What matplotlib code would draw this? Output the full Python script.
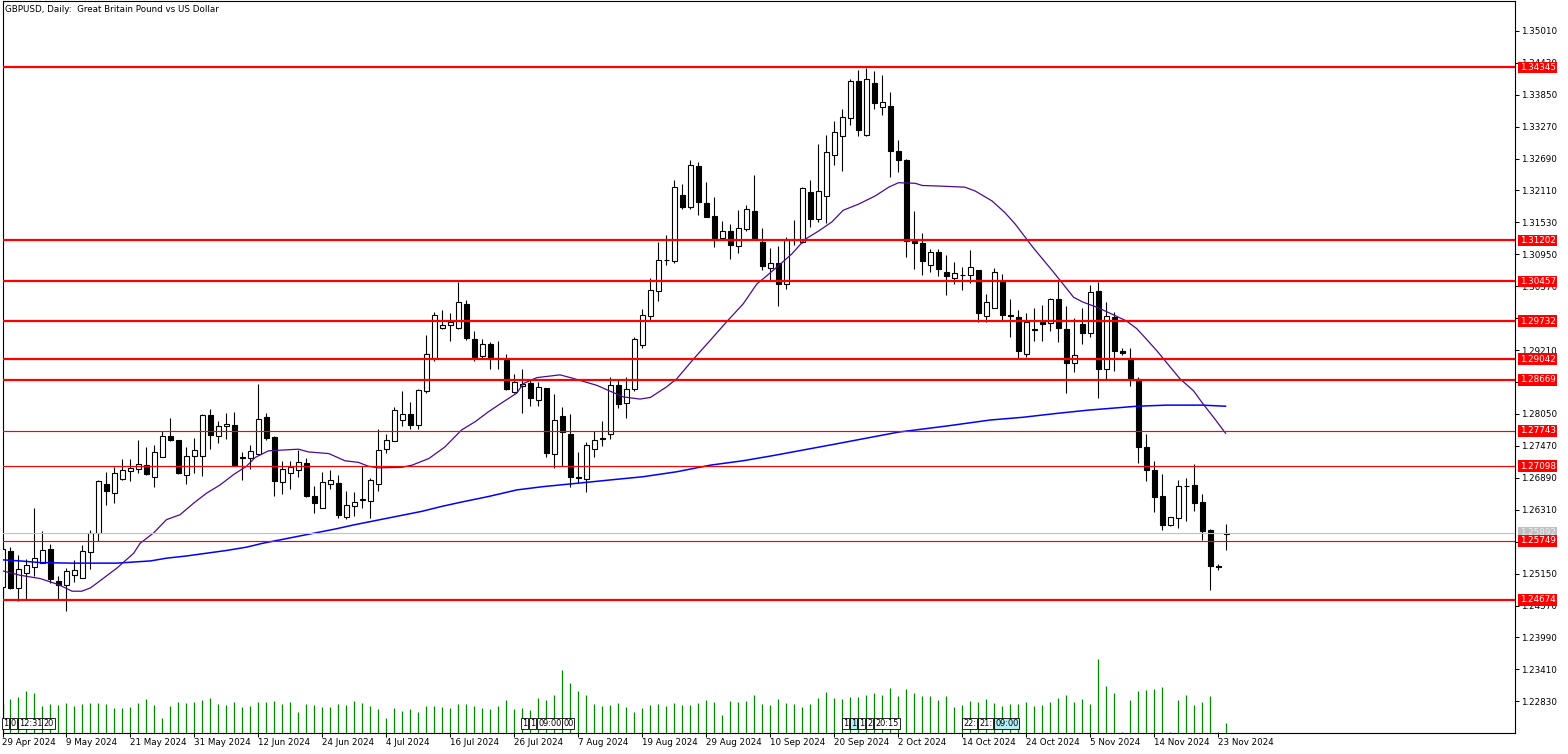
import matplotlib
matplotlib.use("Agg")
import matplotlib.pyplot as plt
from matplotlib.patches import Rectangle

# ---------------- data ----------------
title = "GBPUSD, Daily:  Great Britain Pound vs US Dollar"

opens = [1.2490, 1.25553, 1.24887, 1.25166, 1.25275, 1.25347, 1.25601, 1.2502, 1.24948, 1.2513,
         1.25075, 1.25547, 1.25892, 1.26781, 1.26618, 1.26866, 1.27017, 1.27053, 1.27126, 1.26908,
         1.27271, 1.27652, 1.2758, 1.26945, 1.27289, 1.27289, 1.28033, 1.27652, 1.27834, 1.27858,
         1.27265, 1.27247, 1.27326, 1.27991, 1.27635, 1.26821, 1.26972, 1.27026, 1.27159, 1.26562,
         1.26339, 1.26773, 1.26791, 1.26176, 1.26375, 1.26495, 1.26465, 1.26773, 1.27406, 1.27563,
         1.27936, 1.28057, 1.27858, 1.28473, 1.29058, 1.29613, 1.29667, 1.29613, 1.30053, 1.29414,
         1.291, 1.29329, 1.29058, 1.29034, 1.2844, 1.28558, 1.28619, 1.28305, 1.28516, 1.27315,
         1.28009, 1.27683, 1.26899, 1.26874, 1.27406, 1.27599, 1.27677, 1.2857, 1.28256, 1.28504,
         1.29307, 1.29826, 1.30278, 1.30851, 1.30827, 1.32022, 1.31817, 1.32553, 1.31883, 1.31648,
         1.31244, 1.31377, 1.31099, 1.31407, 1.31739, 1.31177, 1.30695, 1.30788, 1.30408, 1.31205,
         1.31181, 1.32074, 1.31585, 1.32002, 1.3275, 1.33107, 1.3342, 1.34103, 1.33113, 1.34067,
         1.33632, 1.3365, 1.32835, 1.32654, 1.31199, 1.31157, 1.30752, 1.30988, 1.30625, 1.30517,
         1.30577, 1.30571, 1.30662, 1.29834, 1.29973, 1.30445, 1.29844, 1.2982, 1.2914, 1.29595,
         1.29716, 1.29698, 1.30129, 1.29601, 1.28976, 1.29692, 1.29516, 1.30275, 1.28861, 1.2981,
         1.29201, 1.29067, 1.28661, 1.27453, 1.27028, 1.26555, 1.26039, 1.26155, 1.26749, 1.26755,
         1.26452, 1.25948, 1.25281, 1.2587]
highs = [1.2568, 1.25626, 1.2548, 1.2542, 1.2634, 1.25916, 1.2568, 1.25105, 1.2525, 1.2539,
         1.25674, 1.2594, 1.26848, 1.26987, 1.2709, 1.27235, 1.27235, 1.2758, 1.27441, 1.27495,
         1.27749, 1.27985, 1.2758, 1.27453, 1.27622, 1.28058, 1.28148, 1.27913, 1.2807, 1.28094,
         1.2735, 1.27489, 1.2859, 1.28069, 1.27647, 1.27201, 1.27189, 1.27394, 1.27243, 1.26743,
         1.26996, 1.27026, 1.26936, 1.26646, 1.26634, 1.27098, 1.26893, 1.27768, 1.27683, 1.28184,
         1.28461, 1.28262, 1.28497, 1.29492, 1.29902, 1.29938, 1.2989, 1.30439, 1.30119, 1.29565,
         1.29414, 1.29348, 1.29384, 1.2913, 1.28781, 1.28872, 1.28661, 1.28637, 1.28516, 1.28407,
         1.28178, 1.28045, 1.27351, 1.27538, 1.27737, 1.2793, 1.28727, 1.28673, 1.28715, 1.29451,
         1.29964, 1.30526, 1.31177, 1.31292, 1.323, 1.32228, 1.32662, 1.32626, 1.32258, 1.31992,
         1.31552, 1.31503, 1.31751, 1.31847, 1.32396, 1.31425, 1.31063, 1.31102, 1.31259, 1.31573,
         1.32177, 1.32298, 1.32962, 1.33125, 1.33379, 1.3359, 1.3414, 1.3429, 1.34327, 1.34272,
         1.34212, 1.33892, 1.33034, 1.3269, 1.31742, 1.31338, 1.31054, 1.31054, 1.3094, 1.30813,
         1.30728, 1.3103, 1.30662, 1.30221, 1.3071, 1.30584, 1.30147, 1.29947, 1.2988, 1.29983,
         1.30026, 1.30165, 1.30457, 1.30002, 1.29801, 1.29983, 1.30384, 1.30439, 1.30087, 1.29905,
         1.2925, 1.2925, 1.28715, 1.2769, 1.27198, 1.26962, 1.26173, 1.26852, 1.26883, 1.27144,
         1.26597, 1.25966, 1.25323, 1.26051]
lows = [1.2472, 1.24875, 1.24645, 1.2467, 1.25105, 1.25335, 1.24984, 1.24682, 1.24476, 1.24996,
        1.2507, 1.25238, 1.25734, 1.264, 1.26424, 1.26848, 1.26836, 1.26981, 1.2695, 1.26727,
        1.2726, 1.2755, 1.26957, 1.26781, 1.26981, 1.26926, 1.2741, 1.27525, 1.27586, 1.2711,
        1.26848, 1.27053, 1.27307, 1.27575, 1.26562, 1.26592, 1.26694, 1.26911, 1.2655, 1.26248,
        1.26339, 1.26688, 1.26152, 1.26134, 1.26188, 1.26333, 1.26152, 1.26658, 1.2734, 1.2755,
        1.2784, 1.2778, 1.2778, 1.28431, 1.29004, 1.296, 1.29372, 1.296, 1.2939, 1.2901,
        1.2907, 1.28865, 1.28865, 1.28479, 1.28431, 1.28069, 1.28196, 1.28196, 1.27273, 1.27074,
        1.2711, 1.2673, 1.2679, 1.26639, 1.27261, 1.27472, 1.27587, 1.2816, 1.27979, 1.28468,
        1.29252, 1.29747, 1.30097, 1.30749, 1.30791, 1.31781, 1.31781, 1.31672, 1.31624, 1.31075,
        1.3122, 1.30864, 1.30966, 1.31365, 1.31238, 1.3067, 1.30471, 1.30003, 1.30318, 1.31127,
        1.31163, 1.31453, 1.31543, 1.31525, 1.32576, 1.32467, 1.33306, 1.33095, 1.33095, 1.3359,
        1.33475, 1.32358, 1.32449, 1.3091, 1.30692, 1.30583, 1.30625, 1.30553, 1.30203, 1.30414,
        1.30305, 1.3042, 1.29714, 1.29714, 1.2997, 1.29747, 1.29443, 1.29055, 1.2908, 1.29383,
        1.29383, 1.29565, 1.29358, 1.28424, 1.28818, 1.29328, 1.29449, 1.28333, 1.28679, 1.28824,
        1.29116, 1.28551, 1.27168, 1.2684, 1.26276, 1.25948, 1.26021, 1.25985, 1.26112, 1.26294,
        1.25754, 1.24844, 1.2522, 1.25584]
closes = [1.2560, 1.24887, 1.25238, 1.25311, 1.25432, 1.25583, 1.25057, 1.24948, 1.25202, 1.2522,
          1.25565, 1.25892, 1.26823, 1.26654, 1.26981, 1.27035, 1.27065, 1.27144, 1.26963, 1.2735,
          1.27658, 1.27574, 1.26981, 1.27289, 1.27398, 1.28033, 1.2767, 1.27834, 1.2787, 1.2712,
          1.27253, 1.2738, 1.27961, 1.27617, 1.26839, 1.27044, 1.2708, 1.27171, 1.26562, 1.26429,
          1.26809, 1.26845, 1.2621, 1.26393, 1.26453, 1.26507, 1.26851, 1.27388, 1.27569, 1.28129,
          1.28057, 1.27858, 1.28479, 1.29142, 1.29848, 1.29667, 1.29727, 1.30083, 1.29426, 1.29082,
          1.29317, 1.29052, 1.29046, 1.28503, 1.28639, 1.286, 1.2834, 1.28546, 1.27345, 1.27949,
          1.27725, 1.26911, 1.26887, 1.27484, 1.27568, 1.27611, 1.28582, 1.28238, 1.28498, 1.29415,
          1.2985, 1.30302, 1.30845, 1.30839, 1.32167, 1.31817, 1.32565, 1.31896, 1.31636, 1.31238,
          1.31377, 1.31117, 1.31425, 1.31769, 1.31238, 1.3073, 1.30791, 1.30408, 1.31217, 1.31217,
          1.32147, 1.31585, 1.32105, 1.32811, 1.33179, 1.33451, 1.34103, 1.33216, 1.3414, 1.33699,
          1.33723, 1.32835, 1.32654, 1.31199, 1.31151, 1.30825, 1.31, 1.30674, 1.30547, 1.30607,
          1.30565, 1.30716, 1.29877, 1.30076, 1.3063, 1.2985, 1.29832, 1.29189, 1.29729, 1.29583,
          1.2968, 1.30147, 1.29607, 1.2897, 1.29122, 1.29516, 1.30269, 1.28861, 1.29832, 1.29189,
          1.29158, 1.28679, 1.27441, 1.27028, 1.26549, 1.26039, 1.26173, 1.26737, 1.26737, 1.2644,
          1.2593, 1.25281, 1.25269, 1.25892]
tick_volume = [30000, 33700, 35700, 41700, 39700, 26700, 28700, 27700, 29700, 26700,
               28700, 29700, 29700, 28700, 24700, 24700, 25700, 29700, 33700, 27700,
               14700, 26700, 30700, 29700, 30700, 32700, 34700, 28700, 27700, 30700,
               25700, 26700, 30700, 30700, 31700, 28700, 30700, 20700, 28700, 27700,
               25700, 25700, 28700, 27700, 31700, 29700, 26700, 23700, 14700, 24700,
               21700, 23700, 20700, 26700, 26700, 25700, 24700, 28700, 28700, 26700,
               24700, 23700, 26700, 32700, 23700, 24700, 22700, 34700, 32700, 37700,
               62700, 49700, 41700, 37700, 28700, 26700, 27700, 29700, 25700, 20700,
               24700, 27700, 28700, 26700, 29700, 27700, 27700, 29700, 32700, 30700,
               17700, 31700, 30700, 31700, 37700, 28700, 27700, 33700, 29700, 28700,
               25700, 28700, 34700, 40700, 34700, 33700, 35700, 35700, 37700, 39700,
               37700, 44700, 36700, 43700, 39700, 36700, 36700, 32700, 36700, 25700,
               27700, 31700, 30700, 33700, 29700, 26700, 28700, 28700, 30700, 26700,
               27700, 30700, 34700, 37700, 30700, 33700, 28700, 73700, 46700, 39700,
               500, 32700, 41700, 42700, 43700, 45700, 700, 32700, 37700, 27700,
               30700, 36700, 700, 9700]

date_labels = ["29 Apr 2024", "9 May 2024", "21 May 2024", "31 May 2024", "12 Jun 2024",
               "24 Jun 2024", "4 Jul 2024", "16 Jul 2024", "26 Jul 2024", "7 Aug 2024",
               "19 Aug 2024", "29 Aug 2024", "10 Sep 2024", "20 Sep 2024", "2 Oct 2024",
               "14 Oct 2024", "24 Oct 2024", "5 Nov 2024", "14 Nov 2024", "23 Nov 2024"]

price_ticks = [1.35010, 1.34430, 1.33850, 1.33270, 1.32690, 1.32110, 1.31530, 1.30950,
               1.30370, 1.29790, 1.29210, 1.28630, 1.28050, 1.27470, 1.26890, 1.26310,
               1.25730, 1.25150, 1.24570, 1.23990, 1.23410, 1.22830]

levels_thick = [1.34345, 1.31202, 1.30457, 1.29732, 1.29042, 1.28669, 1.24674]
levels_thin = [1.27743, 1.27098, 1.25749]
bid_price = 1.25892

# moving averages (vertices: bar index, price)
ma_fast_x = [0, 2.2, 4.7, 7, 8.7, 9.9, 11, 12.2, 14.3, 16.4, 17.2, 18.9, 20.5, 22.2, 23.9, 25.5,
             27.2, 28.9, 30.5, 31.6, 33.25, 37, 38.25, 40.8, 42.8, 44.5, 45.75, 47, 49.9, 51.2,
             53.3, 55.3, 57.4, 59.1, 60.75, 62.4, 64.3, 65.1, 66.8, 69.7, 71, 74.3, 77.6, 79.7,
             81, 83, 84.3, 86.4, 88.5, 90.5, 92.6, 94.3, 95.3, 97, 98.7, 100.3, 102, 103.7, 105.1,
             107, 109.1, 110.8, 112, 114.1, 115, 117, 120.3, 121.6, 123.7, 125.3, 126.6, 128.8,
             131.2, 132.2, 133.9, 135.1, 136.8, 138.9, 140.5, 141.8, 143, 144.3, 146, 147.2,
             148.9, 150.1, 151.4, 152.9]
ma_fast_y = [1.2520, 1.2512, 1.2506, 1.2495, 1.2483, 1.2483, 1.2489, 1.2502, 1.2525, 1.2552,
             1.2570, 1.2589, 1.2613, 1.2622, 1.2643, 1.2661, 1.2676, 1.2695, 1.2710, 1.2726,
             1.2738, 1.2741, 1.2736, 1.2733, 1.2720, 1.2717, 1.2710, 1.2707, 1.2708, 1.2712,
             1.2724, 1.2745, 1.2776, 1.2791, 1.2809, 1.2825, 1.2843, 1.2860, 1.2871, 1.2876,
             1.2871, 1.2857, 1.2836, 1.2832, 1.2835, 1.2854, 1.2869, 1.2905, 1.2939, 1.2972,
             1.3005, 1.3041, 1.3053, 1.3074, 1.3096, 1.3122, 1.3137, 1.3154, 1.3175, 1.3186,
             1.3201, 1.3217, 1.3225, 1.3224, 1.3220, 1.3219, 1.3217, 1.3210, 1.3192, 1.3171,
             1.3150, 1.3108, 1.3066, 1.3048, 1.3017, 1.3008, 1.2999, 1.2985, 1.2974, 1.2960,
             1.2941, 1.2920, 1.2890, 1.2869, 1.2847, 1.2823, 1.2799, 1.2770]
ma_slow_x = [0, 2.2, 4.7, 8.5, 14.3, 16.4, 18.5, 20.5, 23, 25.5, 28, 30.5, 32.5, 41.6, 44.1,
             48.25, 52.4, 54.9, 57.4, 60.75, 64.3, 67.6, 71.8, 75.9, 80.1, 84.3, 88.5, 92.6,
             96.2, 104, 112, 118, 123.5, 127.6, 131.8, 135.8, 141.8, 145.5, 150, 152.9]
ma_slow_y = [1.2540, 1.2538, 1.2535, 1.2534, 1.2534, 1.2536, 1.2538, 1.2543, 1.2547, 1.2552,
             1.2557, 1.2563, 1.2570, 1.2596, 1.2604, 1.2616, 1.2628, 1.2637, 1.2645, 1.2655,
             1.2667, 1.2673, 1.2679, 1.2685, 1.2691, 1.2700, 1.2712, 1.2720, 1.2729, 1.2750,
             1.2772, 1.2783, 1.2794, 1.2799, 1.2806, 1.2812, 1.2819, 1.2821, 1.2821, 1.2819]

# trade-history markers near the bottom (start bar, text, highlighted)
marker_bars = [0.05, 1.0, 2.05, 5.1, 64.96, 65.96, 66.96, 70.1,
               105.1, 106.1, 107.1, 108.1, 109.1, 120.1, 122.1, 124.1]
marker_texts = ["1", "0", "12:31", "20", "1", "1", "09:00", "00",
                "1", "1", "1", "2", "20:15", "22:", "21:", "09:00"]
marker_hl = [0, 0, 0, 0, 0, 0, 0, 0, 0, 1, 0, 0, 0, 0, 0, 1]

# ---------------- figure ----------------
W, H = 1568, 754
FS = 6.3
plt.rcParams["font.family"] = ["DejaVu Sans"]
fig = plt.figure(figsize=(W / 100, H / 100), dpi=100)
fig.patch.set_facecolor("white")

L_px, R_px, T_px, B_px = 2.5, 1515.0, 1.0, 732.7
ax = fig.add_axes([L_px / W, 1 - B_px / H, (R_px - L_px) / W, (B_px - T_px) / H])
ax.set_facecolor("white")

bar_px = 8.0
x0_px = 2.3
ax.set_xlim((L_px - x0_px) / bar_px, (R_px - x0_px) / bar_px)
px_per_unit = 5505.0
ref_price, ref_y = 1.35010, 30.8
ax.set_ylim(ref_price - (B_px - ref_y) / px_per_unit, ref_price + (ref_y - T_px) / px_per_unit)

# volumes (bottom of the chart window)
vol_scale = (B_px - T_px) * 1000.0
for i, v in enumerate(tick_volume):
    ax.plot([i, i], [0, v / vol_scale], color="#008a00", lw=0.9,
            transform=ax.get_xaxis_transform(), zorder=2, solid_capstyle="butt")

# candles
bw = 0.58
for i in range(len(opens)):
    o, h, l, c = opens[i], highs[i], lows[i], closes[i]
    ax.plot([i, i], [l, h], color="black", lw=0.8, zorder=3, solid_capstyle="butt")
    lo, hi = min(o, c), max(o, c)
    if hi - lo < 0.00006:
        ax.plot([i - bw / 2, i + bw / 2], [c, c], color="black", lw=1.1, zorder=4,
                solid_capstyle="butt")
    else:
        fc = "white" if c >= o else "black"
        ax.add_patch(Rectangle((i - bw / 2, lo), bw, hi - lo, facecolor=fc,
                               edgecolor="black", lw=0.8, zorder=4))

# moving averages
ax.plot(ma_slow_x, ma_slow_y, color="#0000ff", lw=1.1, zorder=5)
ax.plot(ma_fast_x, ma_fast_y, color="#4b0a8c", lw=0.9, zorder=5)

# horizontal levels
ax.axhline(bid_price, color="#c0c0c0", lw=0.8, zorder=5)
for lv in levels_thick:
    ax.axhline(lv, color="#ff0000", lw=1.6, zorder=6)
for lv in levels_thin:
    ax.axhline(lv, color="#ff0000", lw=0.85, zorder=6)

# axes styling
for s in ax.spines.values():
    s.set_color("black")
    s.set_linewidth(0.8)
ax.yaxis.tick_right()
ax.set_yticks(price_ticks)
ax.set_yticklabels([f"{p:.5f}" for p in price_ticks])
ax.tick_params(axis="y", direction="out", length=3, width=0.75, labelsize=FS, pad=1.2,
               colors="black")
ax.set_xticks(list(range(0, 8 * len(date_labels), 8)))
ax.set_xticklabels(date_labels)
ax.tick_params(axis="x", direction="out", length=3, width=0.75, labelsize=FS, pad=1.0)
for t in ax.get_xticklabels():
    t.set_ha("left")

# price labels on the right
for lv in levels_thick + levels_thin:
    ax.annotate(f"{lv:.5f}", xy=(1, lv), xycoords=("axes fraction", "data"),
                xytext=(3.4, 0), textcoords="offset points", fontsize=FS, color="white",
                va="center", ha="left", annotation_clip=False, zorder=20,
                bbox=dict(boxstyle="square,pad=0.16", fc="#ff0000", ec="none"))
ax.annotate(f"{bid_price:.5f}", xy=(1, bid_price), xycoords=("axes fraction", "data"),
            xytext=(3.4, 0), textcoords="offset points", fontsize=FS, color="#f0f0f0",
            va="center", ha="left", annotation_clip=False, zorder=19,
            bbox=dict(boxstyle="square,pad=0.16", fc="#c0c0c0", ec="none"))

# markers
for xb, txt, hl in zip(marker_bars, marker_texts, marker_hl):
    ax.text(xb, 0.0125, txt, transform=ax.get_xaxis_transform(), fontsize=5.9,
            ha="left", va="center", zorder=8,
            bbox=dict(boxstyle="square,pad=0.12", fc="#b4eef4" if hl else "white",
                      ec="black", lw=0.6))

fig.text(5 / W, 1 - 9 / H, title, fontsize=FS, va="center", ha="left", color="black")

fig.savefig("out.png", dpi=100, facecolor="white")
